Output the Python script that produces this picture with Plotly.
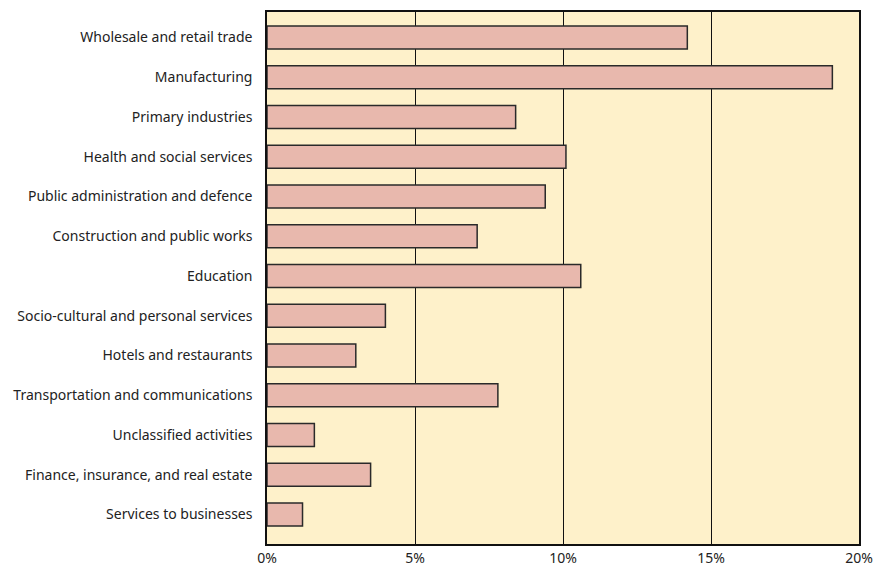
import plotly.graph_objects as go

categories = [
    "Wholesale and retail trade",
    "Manufacturing",
    "Primary industries",
    "Health and social services",
    "Public administration and defence",
    "Construction and public works",
    "Education",
    "Socio-cultural and personal services",
    "Hotels and restaurants",
    "Transportation and communications",
    "Unclassified activities",
    "Finance, insurance, and real estate",
    "Services to businesses",
]
values = [14.2, 19.1, 8.4, 10.1, 9.4, 7.1, 10.6, 4.0, 3.0, 7.8, 1.6, 3.5, 1.2]
x_ticks = [0, 5, 10, 15, 20]
x_tick_labels = ["0%", "5%", "10%", "15%", "20%"]

fig = go.Figure(
    go.Bar(
        x=values,
        y=categories,
        orientation="h",
        marker=dict(color="#E8B8AD", line=dict(color="#2a2a2a", width=1.5)),
        hoverinfo="x+y",
    )
)

fig.update_layout(
    width=878,
    height=571,
    margin=dict(l=267, r=19, t=12, b=27),
    paper_bgcolor="white",
    plot_bgcolor="#FEF1CA",
    bargap=0.42,
    showlegend=False,
    font=dict(family="Noto Sans", size=14, color="#222"),
)
fig.update_xaxes(
    range=[0, 20],
    tickvals=x_ticks,
    ticktext=x_tick_labels,
    showgrid=True,
    gridcolor="#111",
    gridwidth=1.2,
    showline=True,
    linecolor="#111",
    linewidth=1.5,
    mirror=True,
    zeroline=False,
    ticks="",
    tickfont=dict(size=14),
    automargin=False,
    fixedrange=True,
)
fig.update_yaxes(
    categoryorder="array",
    categoryarray=categories[::-1],
    range=[-0.74, len(categories) - 1 + 0.64],
    showgrid=False,
    showline=True,
    linecolor="#111",
    linewidth=1.5,
    mirror=True,
    ticks="",
    ticklabelstandoff=10,
    tickfont=dict(size=14),
    automargin=False,
    fixedrange=True,
)

fig.write_html(
    "out.html",
    config={"displayModeBar": False},
    post_script="document.body.style.margin='0';document.body.style.overflow='hidden';",
)
